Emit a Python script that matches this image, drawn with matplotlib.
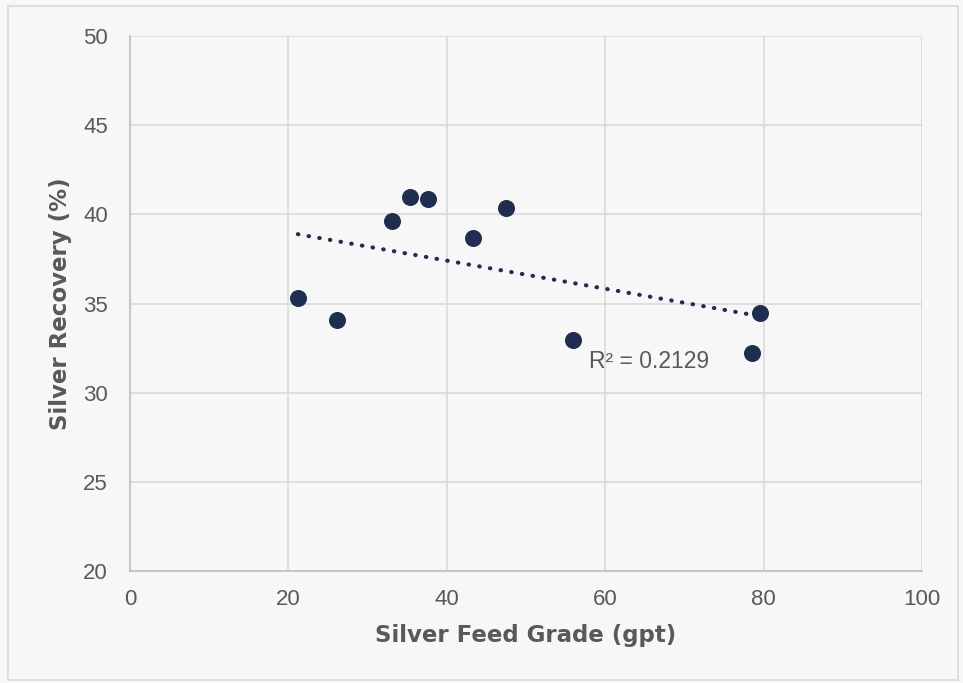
import numpy as np
import matplotlib.pyplot as plt
from matplotlib.patches import Rectangle

# Silver feed grade (gpt) vs silver recovery (%)
feed_grade = [21.2, 26.1, 33.1, 35.35, 37.6, 43.3, 47.5, 55.9, 79.5, 78.5]
recovery = [35.3, 34.07, 39.6, 41.0, 40.85, 38.65, 40.35, 32.95, 34.45, 32.25]
r2_label = "R² = 0.2129"

x_ticks = [0, 20, 40, 60, 80, 100]
y_ticks = [20, 25, 30, 35, 40, 45, 50]

W, H, DPI = 963, 683, 100
fig = plt.figure(figsize=(W / DPI, H / DPI), dpi=DPI)
fig.patch.set_facecolor("#f7f7f7")
plt.rcParams["font.family"] = ["Liberation Sans", "DejaVu Sans"]

# outer chart frame
fig.add_artist(Rectangle((8 / W, 1 - 680 / H), 950 / W, 674 / H,
                         transform=fig.transFigure, fill=False,
                         edgecolor="#d9d9d9", linewidth=1.2))

left, right, top, bottom = 130, 922, 36, 571
ax = fig.add_axes([left / W, 1 - bottom / H, (right - left) / W, (bottom - top) / H])
ax.set_facecolor("#f7f7f7")

ax.set_xlim(0, 100)
ax.set_ylim(20, 50)
ax.set_xticks(x_ticks)
ax.set_yticks(y_ticks)
ax.grid(True, color="#d9d9d9", linewidth=1.2)
ax.set_axisbelow(True)
for s in ["top", "right"]:
    ax.spines[s].set_visible(False)
for s in ["left", "bottom"]:
    ax.spines[s].set_color("#bfbfbf")
    ax.spines[s].set_linewidth(1.2)
ax.tick_params(length=0, labelsize=16, labelcolor="#595959")
ax.tick_params(axis="x", pad=13)
ax.tick_params(axis="y", pad=16)

navy = "#1f2d4e"
ax.scatter(feed_grade, recovery, s=150, color=navy, zorder=3, linewidths=0)

# linear trendline over the data range
xa = np.array(feed_grade)
ya = np.array(recovery)
m, b = np.polyfit(xa, ya, 1)
xs = np.array([xa.min(), xa.max()])
ax.plot(xs, m * xs + b, linestyle=(0, (0.1, 2.5)), color=navy,
        linewidth=3.0, dash_capstyle="round", zorder=2)

ax.text(58.0, 31.75, r2_label, fontsize=16.5, color="#595959",
        ha="left", va="center")

ax.set_xlabel("Silver Feed Grade (gpt)", fontsize=16.5, fontweight="bold",
              color="#595959", labelpad=10, family="DejaVu Sans")
ax.set_ylabel("Silver Recovery (%)", fontsize=16.5, fontweight="bold",
              color="#595959", labelpad=8, family="DejaVu Sans")

fig.savefig("out.png", dpi=DPI, facecolor=fig.get_facecolor())
